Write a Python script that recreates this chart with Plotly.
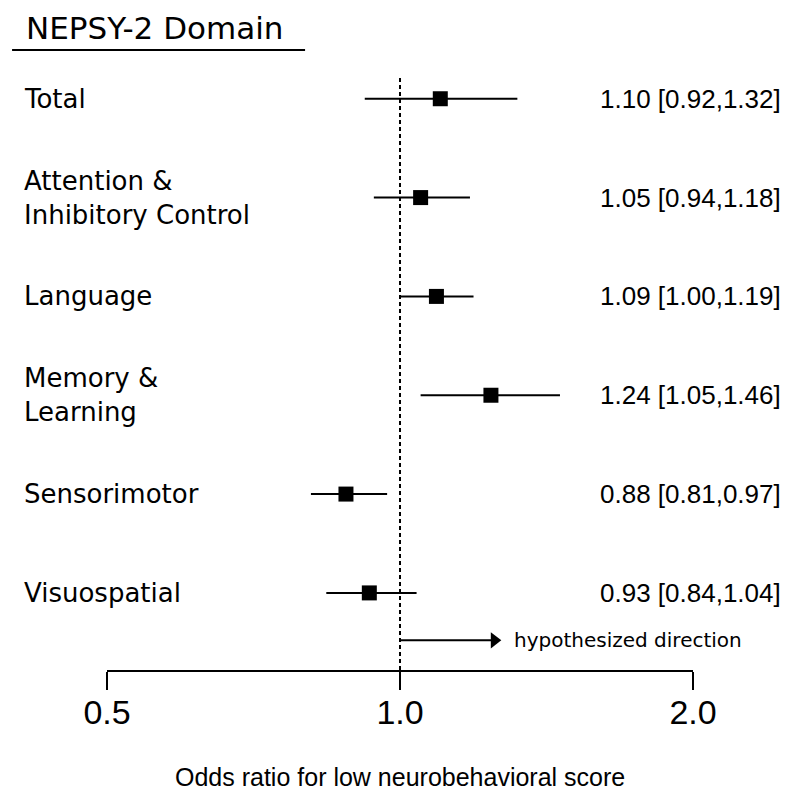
import plotly.graph_objects as go

# NEPSY-2 domains, odds ratios and 95% CIs (top to bottom)
domains = ["Total", "Attention &<br>Inhibitory Control", "Language",
           "Memory &<br>Learning", "Sensorimotor", "Visuospatial"]
odds = [1.10, 1.05, 1.09, 1.24, 0.88, 0.93]
ci_low = [0.92, 0.94, 1.00, 1.05, 0.81, 0.84]
ci_high = [1.32, 1.18, 1.19, 1.46, 0.97, 1.04]
tick_vals = [0.5, 1.0, 2.0]
tick_text = ["0.5", "1.0", "2.0"]
arrow_end = 1.25

LABEL_FONT = "DejaVu Sans, sans-serif"
NUM_FONT = "Liberation Sans, Arial, sans-serif"
rows = list(range(len(domains), 0, -1))

fig = go.Figure()

# reference line at OR = 1
fig.add_trace(go.Scatter(x=[1, 1], y=[0.22, 6.22], mode="lines",
                         line=dict(color="black", width=2, dash="4px,3px"),
                         hoverinfo="skip"))

# confidence intervals
ci_x, ci_y = [], []
for lo, hi, r in zip(ci_low, ci_high, rows):
    ci_x += [lo, hi, None]
    ci_y += [r, r, None]
fig.add_trace(go.Scatter(x=ci_x, y=ci_y, mode="lines",
                         line=dict(color="black", width=2), hoverinfo="skip"))

# point estimates
fig.add_trace(go.Scatter(x=odds, y=rows, mode="markers",
                         marker=dict(symbol="square", size=15, color="black")))

# hypothesized direction arrow
fig.add_trace(go.Scatter(x=[1, arrow_end], y=[0.52, 0.52], mode="lines",
                         line=dict(color="black", width=2), hoverinfo="skip"))
fig.add_trace(go.Scatter(x=[arrow_end], y=[0.52], mode="markers",
                         marker=dict(symbol="triangle-right", size=14, color="black")))
fig.add_annotation(x=0.691, xref="paper", y=0.52, yref="y",
                   text="hypothesized direction", showarrow=False,
                   xanchor="left", yanchor="middle",
                   font=dict(size=20, color="black", family=LABEL_FONT))

for name, o, lo, hi, r in zip(domains, odds, ci_low, ci_high, rows):
    fig.add_annotation(x=-0.145, xref="paper", y=r, yref="y", text=name,
                       showarrow=False, xanchor="left", yanchor="middle",
                       align="left",
                       font=dict(size=26, color="black", family=LABEL_FONT))
    fig.add_annotation(x=1.153, xref="paper", y=r, yref="y",
                       text=f"{o:.2f} [{lo:.2f},{hi:.2f}]",
                       showarrow=False, xanchor="right", yanchor="middle",
                       font=dict(size=26, color="black", family=NUM_FONT))

# header
fig.add_annotation(x=-0.142, xref="paper", y=1.1163, yref="paper",
                   text="NEPSY-2 Domain", showarrow=False,
                   xanchor="left", yanchor="top",
                   font=dict(size=31, color="black", family=LABEL_FONT))
fig.add_shape(type="line", xref="paper", yref="paper",
              x0=-0.162, x1=0.338, y0=1.0455, y1=1.0455,
              line=dict(color="black", width=2))

# axis title
fig.add_annotation(x=0.5, xref="paper", y=-0.18, yref="paper",
                   text="Odds ratio for low neurobehavioral score",
                   showarrow=False, xanchor="center", yanchor="middle",
                   font=dict(size=25, color="black", family=NUM_FONT))

fig.update_xaxes(type="log", range=[-0.30103, 0.30103],
                 tickvals=tick_vals, ticktext=tick_text,
                 showline=True, linecolor="black", linewidth=2,
                 ticks="outside", ticklen=18, tickwidth=2, tickcolor="black",
                 ticklabelstandoff=-7,
                 tickfont=dict(size=34, color="black", family=NUM_FONT),
                 showgrid=False, zeroline=False)
fig.update_yaxes(range=[0.22, 6.22], visible=False, showgrid=False)

# page body adds an 8px margin, so the figure is 8px smaller than the window
fig.update_layout(width=792, height=794, showlegend=False,
                  plot_bgcolor="white", paper_bgcolor="white",
                  margin=dict(l=99, r=107, t=69, b=132),
                  font=dict(family=NUM_FONT, color="black"))

fig.write_html("out.html")
